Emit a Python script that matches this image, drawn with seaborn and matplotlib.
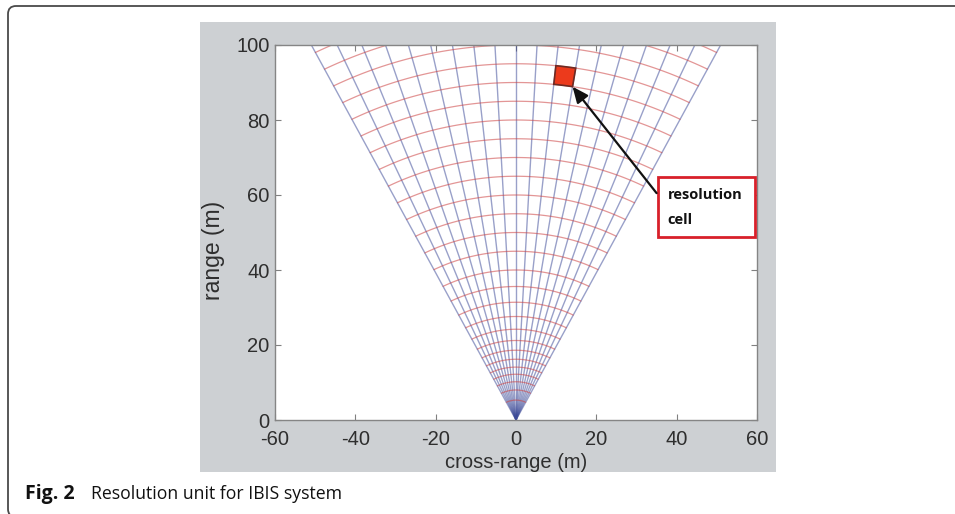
import numpy as np
import pandas as pd
import matplotlib
matplotlib.use("Agg")
import matplotlib.pyplot as plt
import seaborn as sns
from matplotlib.patches import Rectangle, FancyBboxPatch, Polygon

# ---------------- data ----------------
angles_deg = [-27, -24, -21, -18, -15, -12, -9, -6, -3, 0, 3, 6, 9, 12, 15, 18, 21, 24, 27]
arc_ranges = [110, 105, 100, 95, 90, 85, 80, 75, 70, 65, 60, 55, 50, 45, 40,
              35.6, 31.4, 27.6, 24.2, 21.2, 18.6, 16.2, 14.1, 12.2, 10.2, 8.0, 5.3]
ray_length = 120
cell_ranges = [90, 95]
cell_angles = [6, 9]
x_ticks = [-60, -40, -20, 0, 20, 40, 60]
y_ticks = [0, 20, 40, 60, 80, 100]
x_label = "cross-range (m)"
y_label = "range (m)"
note_text = "resolution\ncell"
caption_bold = "Fig. 2"
caption_text = "Resolution unit for IBIS system"

# ---------------- build tables ----------------
ray_rows = []
for i, a in enumerate(angles_deg):
    t = np.deg2rad(a)
    for r in (0, ray_length):
        ray_rows.append({"id": i, "x": r * np.sin(t), "y": r * np.cos(t)})
rays = pd.DataFrame(ray_rows)

arc_rows = []
th = np.deg2rad(np.linspace(min(angles_deg), max(angles_deg), 80))
for i, r in enumerate(arc_ranges):
    for k, t in enumerate(th):
        arc_rows.append({"id": i, "k": k, "x": r * np.sin(t), "y": r * np.cos(t)})
arcs = pd.DataFrame(arc_rows)

# ---------------- figure ----------------
sns.set_theme(style="white")
plt.rcParams['font.family'] = ['Liberation Sans', 'DejaVu Sans']
plt.rcParams['axes.unicode_minus'] = False

W, H = 955, 514
fig = plt.figure(figsize=(W / 100, H / 100), dpi=100)
fig.patch.set_facecolor("white")

# outer rounded frame (inches)
frame = FancyBboxPatch((0.08, -0.03), 10.5, 5.08 + 0.03,
                       boxstyle="round,pad=0,rounding_size=0.08",
                       transform=fig.dpi_scale_trans, facecolor="white",
                       edgecolor="#4a4a4a", linewidth=1.3, zorder=-20)
fig.patches.append(frame)
# MATLAB grey figure area
grey = Rectangle((2.00, (H - 472) / 100), 5.76, (472 - 22) / 100,
                 transform=fig.dpi_scale_trans, facecolor="#cdd0d3",
                 edgecolor="none", zorder=-10)
fig.patches.append(grey)

ax = fig.add_axes([275 / W, (H - 420) / H, 482 / W, 375 / H])
ax.set_facecolor("white")

sns.lineplot(data=rays, x="x", y="y", units="id", estimator=None, sort=False,
             color="#3c4a98", alpha=0.52, linewidth=1.0, ax=ax, legend=False)
sns.lineplot(data=arcs, x="x", y="y", units="id", estimator=None, sort=False,
             color="#cc4040", alpha=0.55, linewidth=0.9, ax=ax, legend=False)

# resolution cell
ca = np.deg2rad(np.linspace(cell_angles[0], cell_angles[1], 10))
cx = np.concatenate([cell_ranges[0] * np.sin(ca), cell_ranges[1] * np.sin(ca[::-1])])
cy = np.concatenate([cell_ranges[0] * np.cos(ca), cell_ranges[1] * np.cos(ca[::-1])])
ax.add_patch(Polygon(np.column_stack([cx, cy]), closed=True, facecolor="#ec3a1c",
                     edgecolor="#6e2a22", linewidth=1.2, zorder=5))

# annotation box
ax.add_patch(Rectangle((35.3, 48.8), 24.2, 16.0, facecolor="white",
                       edgecolor="#d8202a", linewidth=2.0, zorder=6, clip_on=False))
ax.text(37.8, 56.6, note_text, fontsize=10.5, fontweight="bold",
        family=["Open Sans", "DejaVu Sans"], color="#111111",
        ha="left", va="center", linespacing=2.0, zorder=7)
head_t = np.deg2rad(cell_angles[1])
head = (cell_ranges[0] * np.sin(head_t), cell_ranges[0] * np.cos(head_t))
ax.annotate("", xy=head, xytext=(35.0, 60.5),
            arrowprops=dict(arrowstyle="-|>,head_length=0.8,head_width=0.35",
                            color="#111111", lw=1.6, shrinkA=0, shrinkB=0),
            zorder=7)

ax.set_xlim(-60, 60)
ax.set_ylim(0, 100)
ax.set_xticks(x_ticks)
ax.set_xticklabels([str(v) for v in x_ticks])
ax.set_yticks(y_ticks)
ax.set_yticklabels([str(v) for v in y_ticks])
ax.tick_params(direction="in", length=4, width=0.8, color="#808080",
               labelsize=14.5, labelcolor="#2e2e2e", top=True, right=True,
               bottom=True, left=True)
ax.tick_params(axis="x", pad=7)
ax.tick_params(axis="y", pad=4)
for s in ax.spines.values():
    s.set_color("#858585")
    s.set_linewidth(1.0)
    s.set_visible(True)

ax.set_xlabel(x_label, fontsize=14.5, color="#2e2e2e")
ax.set_ylabel(y_label, fontsize=16.5, color="#2e2e2e")
ax.xaxis.set_label_coords(0.5, -0.088)
ax.yaxis.set_label_coords(-0.104, 0.453)

# caption
fig.text(25 / W, 1 - 494 / H, caption_bold, fontsize=14, fontweight="bold",
         family=["Open Sans", "DejaVu Sans"], color="#111111", ha="left", va="center")
fig.text(91 / W, 1 - 494 / H, caption_text, fontsize=12.7,
         family=["Open Sans", "DejaVu Sans"], color="#111111", ha="left", va="center")

fig.savefig("out.png", dpi=100)
